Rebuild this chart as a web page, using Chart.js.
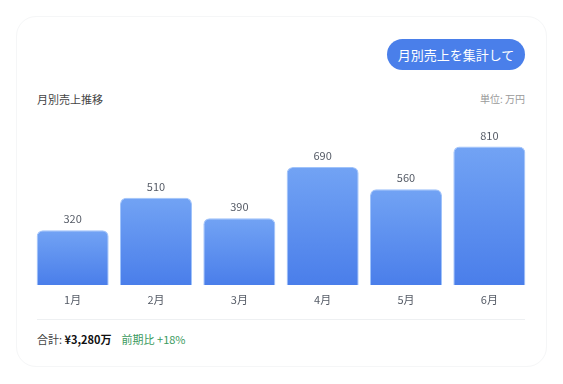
<!DOCTYPE html>
<html lang="ja">
<head>
<meta charset="utf-8">
<script src="https://cdn.jsdelivr.net/npm/chart.js@4.4.1/dist/chart.umd.min.js"></script>
<style>
  html, body { margin: 0; padding: 0; background: #ffffff; width: 563px; height: 384px; overflow: hidden; }
  body { font-family: "Noto Sans CJK JP", "Noto Sans", sans-serif; position: relative; }
  .card { position: absolute; left: 16px; top: 16px; width: 529px; height: 349px; border: 1px solid #f5f6f7; border-radius: 20px; background: #fff; }
  .btn { position: absolute; left: 387px; top: 39px; width: 138px; height: 31px; border-radius: 16px; background: #4a7fea; color: #fff; font-size: 13px; line-height: 31px; text-align: center; }
  .title { position: absolute; left: 37px; top: 91px; font-size: 11px; color: #444; line-height: 16px; }
  .unit { position: absolute; right: 38px; top: 91px; font-size: 10px; color: #9a9a9a; line-height: 16px; }
  .sep { position: absolute; left: 37px; top: 319px; width: 488px; height: 1px; background: #eef0f2; }
  .footer { position: absolute; left: 37px; top: 331px; font-size: 11px; line-height: 16px; color: #444; white-space: nowrap; }
  .footer b { color: #111; font-weight: 700; }
  .footer .chg { color: #3b9a5e; margin-left: 10px; }
  #wrap { position: absolute; left: 31px; top: 110px; width: 500px; height: 210px; }
</style>
</head>
<body>
<div class="card"></div>
<div class="btn">月別売上を集計して</div>
<div class="title">月別売上推移</div>
<div class="unit">単位: 万円</div>
<div id="wrap"><canvas id="c" width="500" height="210"></canvas></div>
<div class="sep"></div>
<div class="footer">合計: <b>¥3,280万</b><span class="chg">前期比 +18%</span></div>
<script>
const months = ["1月", "2月", "3月", "4月", "5月", "6月"];
const sales = [320, 510, 390, 690, 560, 810];
const yMax = 1000;

const valueLabels = {
  id: 'valueLabels',
  afterDatasetsDraw(chart) {
    const ctx = chart.ctx;
    const meta = chart.getDatasetMeta(0);
    ctx.save();
    ctx.font = '11px "Noto Sans CJK JP", sans-serif';
    ctx.fillStyle = '#555b66';
    ctx.textAlign = 'center';
    ctx.textBaseline = 'middle';
    meta.data.forEach((bar, i) => {
      ctx.fillText(String(chart.data.datasets[0].data[i]), bar.x, bar.y - 11);
    });
    ctx.restore();
  }
};

new Chart(document.getElementById('c'), {
  type: 'bar',
  data: {
    labels: months,
    datasets: [{
      data: sales,
      backgroundColor(context) {
        const chart = context.chart;
        const area = chart.chartArea;
        const y = chart.scales && chart.scales.y;
        if (!area || !y || context.type !== 'data') return '#5b8cee';
        const top = y.getPixelForValue(context.raw);
        const g = chart.ctx.createLinearGradient(0, top, 0, area.bottom);
        g.addColorStop(0, '#72a3f4');
        g.addColorStop(1, '#4a7eea');
        return g;
      },
      borderColor: 'rgba(150,188,250,0.9)',
      borderWidth: { top: 1, left: 1, right: 1, bottom: 0 },
      borderSkipped: 'bottom',
      borderRadius: { topLeft: 6, topRight: 6, bottomLeft: 0, bottomRight: 0 },
      categoryPercentage: 1,
      barPercentage: 0.864
    }]
  },
  options: {
    responsive: false,
    animation: false,
    devicePixelRatio: 1,
    layout: { padding: { top: 4, left: 0, right: 0, bottom: 0 } },
    plugins: { legend: { display: false }, tooltip: { enabled: false } },
    scales: {
      x: {
        grid: { display: false, drawTicks: false },
        border: { display: false },
        ticks: { color: '#555b66', font: { size: 11, family: '"Noto Sans CJK JP", sans-serif' }, padding: 8 },
        afterFit(scale) { scale.height = 35; }
      },
      y: { display: false, min: 0, max: yMax }
    }
  },
  plugins: [valueLabels]
});
</script>
</body>
</html>
